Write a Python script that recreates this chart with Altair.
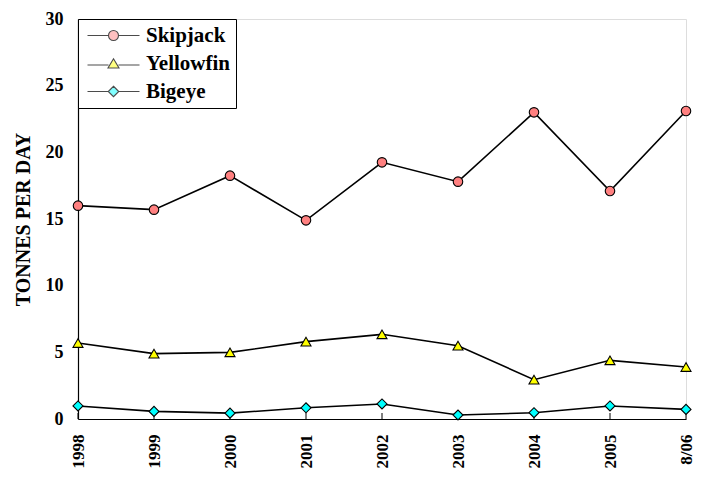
import altair as alt
import pandas as pd

years = ["1998", "1999", "2000", "2001", "2002", "2003", "2004", "2005", "8/06"]
series_names = ["Skipjack", "Yellowfin", "Bigeye"]
skipjack = [16.0, 15.7, 18.25, 14.9, 19.25, 17.8, 23.0, 17.1, 23.1]
yellowfin = [5.7, 4.9, 5.0, 5.8, 6.35, 5.5, 2.95, 4.4, 3.9]
bigeye = [0.98, 0.57, 0.44, 0.84, 1.13, 0.3, 0.47, 0.98, 0.72]
fills = ["#FF8080", "#FFFF00", "#00FFFF"]
shapes = ["circle", "triangle-up", "diamond"]

rows = []
for name, vals in zip(series_names, [skipjack, yellowfin, bigeye]):
    for yr, v in zip(years, vals):
        rows.append({"year": yr, "series": name, "value": v})
df = pd.DataFrame(rows)
ticks_df = pd.DataFrame({"year": years})

FONT = "Liberation Serif"

x_enc = alt.X("year:N", sort=years,
              scale=alt.Scale(type="point", padding=0),
              axis=alt.Axis(title=None, labelAngle=-90, labelFont=FONT, labelFontSize=17,
                            labelFontWeight="bold", labelColor="black", labelPadding=15,
                            ticks=False, domainColor="black", domainWidth=1.2,
                            labelAlign="right", labelBaseline="middle"))
y_enc = alt.Y("value:Q", scale=alt.Scale(domain=[0, 30], nice=False),
              axis=alt.Axis(title="TONNES PER DAY", values=[0, 5, 10, 15, 20, 25, 30],
                            labelFont=FONT, labelFontSize=18, labelFontWeight="bold",
                            labelColor="black", labelPadding=15, ticks=False,
                            titleFont=FONT, titleFontSize=20, titleFontWeight="bold",
                            titleColor="black", titlePadding=12,
                            domainColor="black", domainWidth=1.2,
                            gridColor="#c8c8c8", gridWidth=1))

base = alt.Chart(df)

lines = base.mark_line(color="black", strokeWidth=1.6).encode(
    x=x_enc, y=y_enc, detail="series:N")

tick_rules = alt.Chart(ticks_df).mark_rule(color="black", strokeWidth=1).encode(
    x=alt.X("year:N", sort=years), y=alt.datum(0), y2=alt.datum(0.45))

point_layers = []
for name, f, s in zip(series_names, fills, shapes):
    point_layers.append(
        base.transform_filter(alt.datum.series == name).mark_point(
            shape=s, size=90 if s == "circle" else 100, filled=True, fill=f, stroke="black",
            strokeWidth=1.1, opacity=1).encode(x=alt.X("year:N", sort=years), y="value:Q"))

circle_p = "M-5.2,0H-1M1,0H5.2M-1,0A1,1 0 1,1 1,0A1,1 0 1,1 -1,0Z"
tri_p = "M-5.2,0.3H-1M1,0.3H5.2M0,-0.95L1.1,0.9L-1.1,0.9Z"
dia_p = "M-5.2,0H-1.05M1.05,0H5.2M0,-1.05L1.05,0L0,1.05L-1.05,0Z"

legend_layer = base.transform_filter("false").mark_point(
    filled=True, stroke="black", strokeWidth=1.1, size=100).encode(
    x=alt.X("year:N", sort=years), y="value:Q",
    fill=alt.Fill("series:N", title=None,
                  scale=alt.Scale(domain=series_names, range=fills),
                  legend=alt.Legend(orient="top-left", offset=0, padding=6,
                                    strokeColor="black", fillColor="white",
                                    symbolSize=100, symbolOffset=19, labelOffset=22,
                                    symbolStrokeColor="black", symbolStrokeWidth=1.1,
                                    symbolOpacity=1,
                                    labelFont=FONT, labelFontSize=21, labelFontWeight="bold",
                                    labelColor="black", rowPadding=6, labelLimit=300)),
    shape=alt.Shape("series:N", title=None,
                    scale=alt.Scale(domain=series_names, range=[circle_p, tri_p, dia_p])))

chart = alt.layer(tick_rules, lines, *point_layers, legend_layer).properties(
    width=608, height=400,
    autosize=alt.AutoSizeParams(type="none"),
    padding={"left": 70, "top": 11, "right": 10, "bottom": 50},
).configure_view(stroke="#888888", strokeWidth=1.2).configure(background="white")

chart.save("out.html", embed_options={"renderer": "svg", "actions": False})
